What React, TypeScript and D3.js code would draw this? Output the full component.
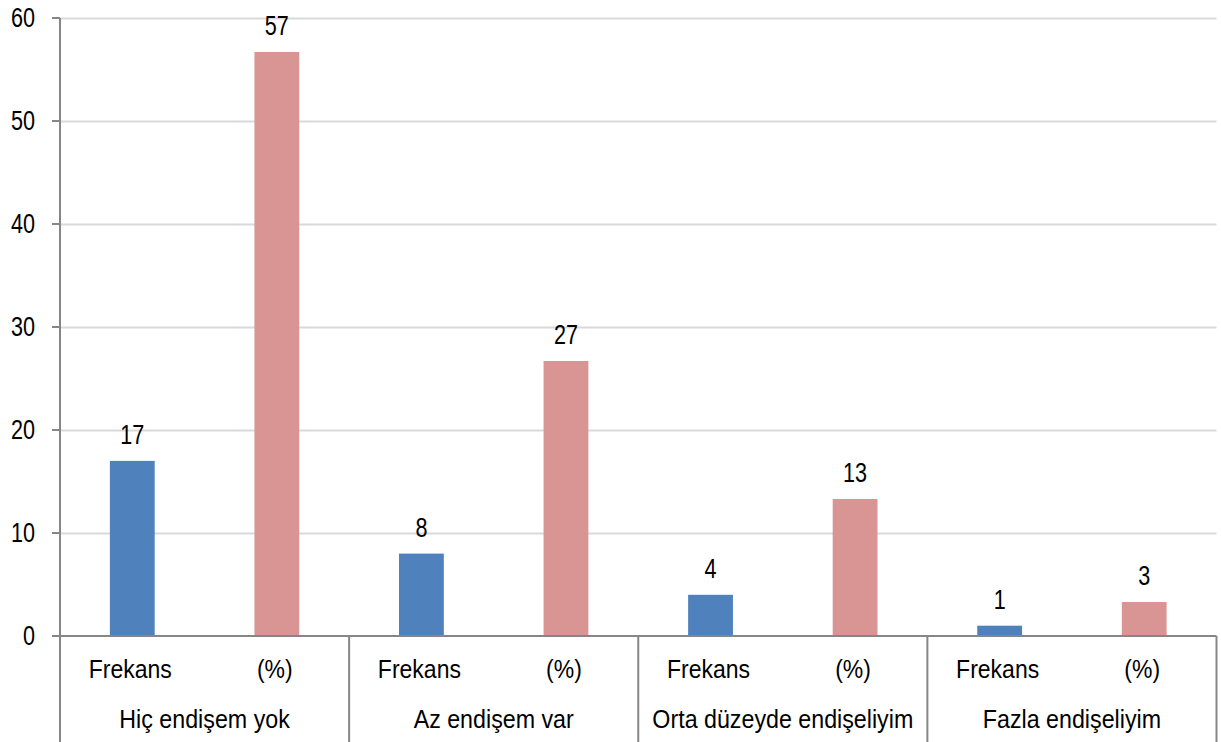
import React from 'react';
import * as d3 from 'd3';

const groups = ['Hiç endişem yok', 'Az endişem var', 'Orta düzeyde endişeliyim', 'Fazla endişeliyim'];
const subLabels = ['Frekans', '(%)'];
const frekans = [17, 8, 4, 1];
const yuzde = [56.7, 26.7, 13.3, 3.3];
const yTicks = [0, 10, 20, 30, 40, 50, 60];

const W = 1221;
const H = 742;
const left = 60;
const right = 1216.5;
const top = 18;
const bottom = 636;
const font = "'Liberation Sans', Arial, sans-serif";

// narrow text: Liberation Sans squeezed horizontally around its anchor
function T(props: { x: number; y: number; size: number; sx: number; anchor: string; children: React.ReactNode }) {
  return (
    <g transform={`translate(${props.x},${props.y}) scale(${props.sx},1)`}>
      <text dy="0.35em" textAnchor={props.anchor} fontSize={props.size} fill="#000">{props.children}</text>
    </g>
  );
}

export default function App() {
  const y = d3.scaleLinear().domain([0, 60]).range([bottom, top]);
  const xGroup = d3.scaleBand<string>().domain(groups).range([left, right]);
  const xSub = d3.scaleBand<string>().domain(subLabels).range([0, xGroup.bandwidth()]);
  const barW = xSub.bandwidth() * 0.31;

  const bars = groups.flatMap((g, i) => [
    { g, s: subLabels[0], v: frekans[i], color: '#4f81bd' },
    { g, s: subLabels[1], v: yuzde[i], color: '#d99594' },
  ]);

  return (
    <div style={{ position: 'absolute', left: 0, top: 0 }}>
      <svg width={W} height={H} style={{ display: 'block', fontFamily: font }}>
        <rect width={W} height={H} fill="#fff" />
        {yTicks.filter(t => t > 0).map(t => (
          <line key={'g' + t} x1={left} x2={right} y1={Math.round(y(t)) + 0.5} y2={Math.round(y(t)) + 0.5}
            stroke="#d9d9d9" strokeWidth={2} />
        ))}
        {bars.map(b => {
          const cx = (xGroup(b.g) as number) + (xSub(b.s) as number) + xSub.bandwidth() / 2;
          return (
            <g key={b.g + b.s}>
              <rect x={cx - barW / 2} y={y(b.v)} width={barW} height={bottom - y(b.v)} fill={b.color} />
              <T x={cx} y={y(b.v) - 26} size={27} sx={0.8} anchor="middle">{d3.format('.0f')(b.v)}</T>
            </g>
          );
        })}
        <line x1={left} x2={left} y1={top} y2={H} stroke="#868686" strokeWidth={2} />
        {yTicks.map(t => (
          <g key={'t' + t}>
            <line x1={52} x2={left} y1={y(t)} y2={y(t)} stroke="#868686" strokeWidth={2} />
            <T x={35} y={y(t)} size={27} sx={0.8} anchor="end">{t}</T>
          </g>
        ))}
        <line x1={left} x2={right} y1={bottom} y2={bottom} stroke="#868686" strokeWidth={2} />
        {groups.map(g => (
          <g key={'x' + g}>
            <line x1={(xGroup(g) as number) + xGroup.bandwidth()} x2={(xGroup(g) as number) + xGroup.bandwidth()}
              y1={bottom} y2={H} stroke="#868686" strokeWidth={2} />
            {subLabels.map(s => (
              <T key={s} x={(xGroup(g) as number) + (xSub(s) as number) + xSub.bandwidth() / 2 - 2} y={669}
                size={25} sx={0.92} anchor="middle">{s}</T>
            ))}
            <T x={(xGroup(g) as number) + xGroup.bandwidth() / 2} y={719} size={25} sx={0.93} anchor="middle">{g}</T>
          </g>
        ))}
      </svg>
    </div>
  );
}
